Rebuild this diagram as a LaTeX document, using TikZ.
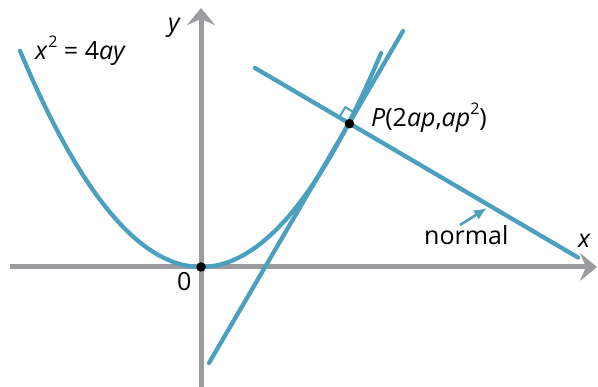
\documentclass[tikz,border=0pt]{standalone}
\usepackage{fontspec}
\setmainfont{Open Sans}
\usetikzlibrary{arrows.meta}
\definecolor{curveblue}{RGB}{74,160,190}
\definecolor{axisgray}{RGB}{155,155,160}
\newcommand{\sqsup}{\raisebox{0.5em}{\fontsize{16}{16}\selectfont 2}}
\begin{document}
\begin{tikzpicture}[x=1pt,y=-1pt,
  axisline/.style={draw=axisgray, line width=5pt, -{Stealth[length=17pt,width=28pt,inset=6pt]}},
  curveline/.style={draw=curveblue, line width=4.3pt, line cap=round},
  lbl/.style={font=\fontsize{25}{29}\selectfont, inner sep=0pt, anchor=base west},
  dotnode/.style={circle, fill=black, inner sep=0pt, minimum size=9.5pt},
  pointer/.style={draw=curveblue, line width=2.6pt, -{Latex[length=13pt,width=11pt]}},
  rightmark/.style={draw=curveblue, line width=2pt}
]
\useasboundingbox (0,0) rectangle (598,387);
% coordinates
\coordinate (xL) at (10,267);
\coordinate (xR) at (597,267);
\coordinate (yB) at (201,387);
\coordinate (yT) at (201,8);
\coordinate (tA) at (209,363);
\coordinate (tB) at (403,31);
\coordinate (nA) at (255,68);
\coordinate (nB) at (578,257.5);
\coordinate (ra1) at (339.2,117.6);
\coordinate (ra2) at (345.3,107.2);
\coordinate (ra3) at (355.6,113.3);
\coordinate (pS) at (460,225);
\coordinate (pT) at (487,208);
% axes
\draw[axisline] (xL) -- (xR);
\draw[axisline] (yB) -- (yT);
% curves
\draw[curveline] plot[domain=-18.1:18.0, samples=120] ({201+10*\x},{267-0.66*\x*\x});
\draw[curveline] (tA) -- (tB);
\draw[curveline] (nA) -- (nB);
\draw[rightmark] (ra1) -- (ra2) -- (ra3);
\draw[pointer] (pS) -- (pT);
% dots
\node[dotnode] (O) at (201,267) {};
\node[dotnode] (P) at (349.5,123.7) {};
% labels
\node[lbl] (ylab) at (168,32) {\textit{y}};
\node[lbl] (xlab) at (578,248) {\textit{x}};
\node[lbl] (eq) at (35,60) {\textit{x}\kern0.5pt\sqsup\ = 4\textit{ay}};
\node[lbl] (Plab) at (371,127) {\textit{P}(2\textit{ap},\textit{ap}\sqsup)};
\node[lbl] (nlab) at (424,245) {normal};
\node[lbl] (zero) at (177,291) {0};
\end{tikzpicture}
\end{document}
